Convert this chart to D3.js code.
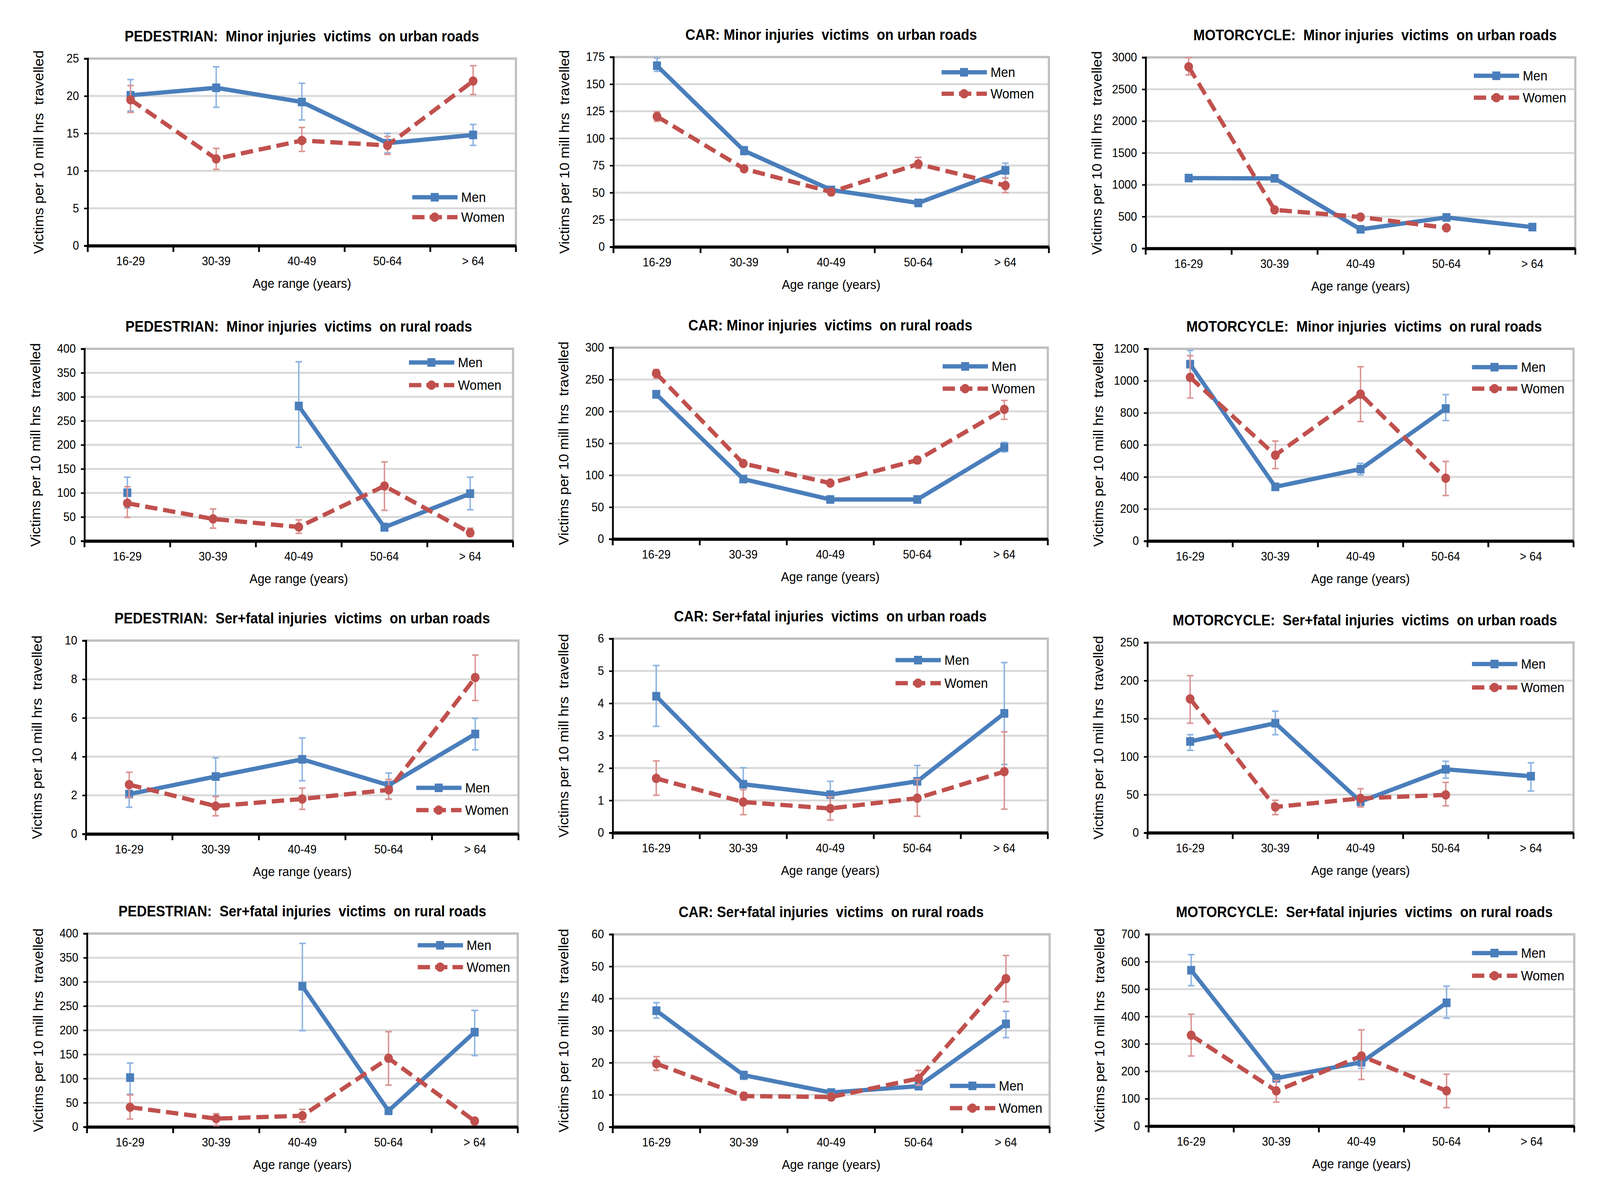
<!DOCTYPE html>
<html>
<head>
<meta charset="utf-8">
<script src="https://cdn.jsdelivr.net/npm/d3@7"></script>
<style>
  html, body { margin: 0; padding: 0; background: #fff; overflow: hidden; }
  svg { display: block; width: 100vw; height: 100vh; }
  text { font-family: "Liberation Sans", Arial, sans-serif; fill: #000; }
</style>
</head>
<body>
<svg id="chart"></svg>
<script>
// ---- data ----
const ages = ["16-29", "30-39", "40-49", "50-64", "> 64"];

const titles = [
  "PEDESTRIAN:  Minor injuries  victims  on urban roads",
  "CAR: Minor injuries  victims  on urban roads",
  "MOTORCYCLE:  Minor injuries  victims  on urban roads",
  "PEDESTRIAN:  Minor injuries  victims  on rural roads",
  "CAR: Minor injuries  victims  on rural roads",
  "MOTORCYCLE:  Minor injuries  victims  on rural roads",
  "PEDESTRIAN:  Ser+fatal injuries  victims  on urban roads",
  "CAR: Ser+fatal injuries  victims  on urban roads",
  "MOTORCYCLE:  Ser+fatal injuries  victims  on urban roads",
  "PEDESTRIAN:  Ser+fatal injuries  victims  on rural roads",
  "CAR: Ser+fatal injuries  victims  on rural roads",
  "MOTORCYCLE:  Ser+fatal injuries  victims  on rural roads"
];

const yMax  = [25, 175, 3000, 400, 300, 1200, 10, 6, 250, 400, 60, 700];
const yStep = [5, 25, 500, 50, 50, 200, 2, 1, 50, 50, 10, 100];

const men = [
  [20.1, 21.1, 19.2, 13.7, 14.8],
  [167, 88.6, 52.5, 40.5, 70.5],
  [1105, 1100, 300, 487, 335],
  [100.5, null, 281, 28.5, 98.5],
  [227, 94, 62, 62, 144],
  [1104, 338, 449, 827, null],
  [2.06, 2.97, 3.86, 2.52, 5.17],
  [4.22, 1.50, 1.18, 1.59, 3.69],
  [120, 144, 41, 83.4, 74.3],
  [102, null, 291, 33.4, 196],
  [36.2, 16.1, 10.7, 12.7, 32.1],
  [569, 175, 233, 450, null]
];
const menLow = [
  [18.0, 18.5, 16.8, 12.4, 13.4],
  [161.8, 85, 50, 38.5, 63.5],
  [1075, 1070, 275, 462, 312],
  [68.6, null, 195, 21, 65],
  [221, 90.5, 59.5, 59.5, 136.4],
  [1020, 317, 413, 752, null],
  [1.38, 1.96, 2.75, 1.81, 4.35],
  [3.29, 1.0, 0.8, 1.08, 2.11],
  [108.4, 128.9, 34.6, 71.8, 54.9],
  [68, null, 199, 26, 147.5],
  [33.9, 14.8, 9.7, 11.6, 27.8],
  [512.6, 160.8, 211, 394, null]
];
const menHigh = [
  [22.2, 23.9, 21.7, 15.0, 16.2],
  [174, 92.5, 55, 43, 77.2],
  [1135, 1130, 325, 512, 358],
  [132.8, null, 373, 37, 132.8],
  [232, 97.5, 64.5, 64.5, 151.5],
  [1190, 356, 485, 914, null],
  [2.70, 3.94, 4.96, 3.15, 5.98],
  [5.17, 2.01, 1.59, 2.08, 5.26],
  [128.9, 159.8, 46, 94, 92],
  [132, null, 379.6, 39.5, 241],
  [38.7, 17.3, 11.8, 13.9, 36.0],
  [626, 189, 247, 511, null]
];

const women = [
  [19.5, 11.6, 14.05, 13.4, 22.0],
  [120.2, 72, 50.6, 76.4, 56.5],
  [2853, 606, 493, 323, null],
  [78.6, 45.9, 29.1, 114.5, 17.1],
  [259.6, 118.4, 87.7, 123.8, 203.3],
  [1022, 536, 917, 392, null],
  [2.55, 1.44, 1.81, 2.28, 8.09],
  [1.68, 0.95, 0.75, 1.07, 1.89],
  [176, 33.9, 45.2, 49.8, null],
  [40.7, 17.1, 23.2, 142, 12.2],
  [19.7, 9.6, 9.3, 15.1, 46.2],
  [331.7, 128.5, 255.9, 128.5, null]
];
const womenLow = [
  [17.8, 10.2, 12.6, 12.2, 20.2],
  [115.8, 69.3, 47.4, 72.3, 50],
  [2725, 580, 470, 300, null],
  [49, 26.7, 16, 63.8, 10],
  [252, 114.5, 84.5, 118.4, 187.7],
  [893, 452, 746, 284, null],
  [1.89, 0.94, 1.27, 1.79, 6.90],
  [1.16, 0.56, 0.39, 0.51, 0.73],
  [144, 23.8, 33.9, 35.4, null],
  [16.3, 2.9, 9.8, 86.4, 5.7],
  [17.6, 8.3, 8.3, 13, 39.0],
  [255.9, 87.6, 170.2, 67.5, null]
];
const womenHigh = [
  [21.4, 13.0, 15.8, 14.6, 24.05],
  [124.6, 74.6, 52.7, 82.5, 63.5],
  [2994, 632, 516, 346, null],
  [112.9, 66.6, 43.9, 164.7, 26.7],
  [265.7, 122.5, 91, 129, 217.2],
  [1157, 624, 1088, 497, null],
  [3.19, 1.93, 2.37, 2.82, 9.25],
  [2.22, 1.33, 1.11, 1.65, 3.12],
  [206.5, 42.7, 57.9, 66.2, null],
  [66, 27.3, 36.3, 197, 19],
  [21.9, 10.7, 10.4, 17.6, 53.4],
  [408.5, 166.5, 351.4, 189.5, null]
];

// ---- layout (plot rects: left, right, top, bottom) ----
const plots = [
  [242, 1423, 150, 629], [1692, 2893, 146, 632], [3160, 4345, 147, 636],
  [233, 1415, 893, 1385], [1690, 2890, 890, 1380], [3165, 4340, 893, 1385],
  [237, 1430, 1640, 2135], [1690, 2890, 1635, 2132], [3165, 4340, 1645, 2132],
  [240, 1428, 2390, 2885], [1690, 2895, 2392, 2885], [3168, 4342, 2392, 2883]
];
const titleShift = [0, 0, 40, 0, 0, 10, 0, 0, 12, 0, 0, 8];
// legend: line start x, men y, women y
const legends = [
  [1137, 505, 556], [2597, 185, 240], [4065, 194, 250],
  [1128, 928, 986], [2600, 938, 995], [4060, 940, 995],
  [1148, 2017, 2074], [2470, 1690, 1749], [4060, 1700, 1760],
  [1152, 2420, 2476], [2620, 2780, 2837], [4060, 2440, 2498]
];

const W = 4413, H = 3044;
const font = "Liberation Sans, Arial, sans-serif";
const blue = "#4A7EBB", red = "#C0504D";
const blueErr = "#8EB4E3", redErr = "#DA9694";

const svg = d3.select("#chart")
  .attr("viewBox", `0 0 ${W} ${H}`)
  .attr("preserveAspectRatio", "none");
svg.append("rect").attr("width", W).attr("height", H).attr("fill", "#fff");

plots.forEach((p, i) => {
  const [left, right, top, bottom] = p;
  const g = svg.append("g");

  const x = d3.scaleBand().domain(ages).range([left, right]);
  const y = d3.scaleLinear().domain([0, yMax[i]]).range([bottom, top]);
  const ticks = d3.range(0, yMax[i] + yStep[i] / 2, yStep[i]);

  // gridlines
  g.selectAll(".grid").data(ticks.filter(t => t > 0 && t < yMax[i])).enter()
    .append("line")
    .attr("x1", left).attr("x2", right)
    .attr("y1", d => y(d)).attr("y2", d => y(d))
    .attr("stroke", "#D9D9D9").attr("stroke-width", 5);
  // frame top / right
  g.append("path")
    .attr("d", `M${left},${top}H${right}V${bottom}`)
    .attr("fill", "none").attr("stroke", "#C0C0C0").attr("stroke-width", 6);

  // y axis
  const yAxis = g.append("g")
    .attr("transform", `translate(${left},0)`)
    .call(d3.axisLeft(y).tickValues(ticks).tickSize(10).tickPadding(14).tickFormat(d3.format("d")));
  yAxis.select(".domain").attr("stroke", "#000").attr("stroke-width", 5);
  yAxis.selectAll(".tick line").attr("stroke", "#000").attr("stroke-width", 4);
  yAxis.selectAll("text").attr("font-size", 31).attr("font-family", font);

  // x axis
  const xAxis = g.append("g")
    .attr("transform", `translate(0,${bottom})`)
    .call(d3.axisBottom(x).tickSize(0).tickPadding(28));
  xAxis.select(".domain").attr("stroke", "#000").attr("stroke-width", 8);
  xAxis.selectAll("text").attr("font-size", 31).attr("font-family", font);
  g.selectAll(".xtick").data(d3.range(ages.length + 1)).enter()
    .append("line")
    .attr("x1", d => left + d * x.bandwidth()).attr("x2", d => left + d * x.bandwidth())
    .attr("y1", bottom).attr("y2", bottom + 16)
    .attr("stroke", "#000").attr("stroke-width", 5);

  // titles
  g.append("text")
    .attr("x", (left + right) / 2 + titleShift[i]).attr("y", top - 44)
    .attr("text-anchor", "middle").attr("font-size", 38).attr("font-weight", "bold")
    .style("white-space", "pre")
    .text(titles[i]);
  g.append("text")
    .attr("x", (left + right) / 2).attr("y", bottom + 108)
    .attr("text-anchor", "middle").attr("font-size", 34)
    .text("Age range (years)");
  g.append("text")
    .attr("transform", `translate(${left - 122},${(top + bottom) / 2}) rotate(-90)`)
    .attr("text-anchor", "middle").attr("font-size", 37)
    .style("white-space", "pre")
    .text("Victims per 10 mill hrs  travelled");

  const cx = d => x(d) + x.bandwidth() / 2;
  const series = [
    { v: men[i], lo: menLow[i], hi: menHigh[i], c: blue, ec: blueErr, dash: null, shape: "square" },
    { v: women[i], lo: womenLow[i], hi: womenHigh[i], c: red, ec: redErr, dash: "34,16", shape: "circle" }
  ];

  series.forEach(s => {
    const pts = ages.map((a, k) => ({ a, v: s.v[k], lo: s.lo[k], hi: s.hi[k] }));
    // error bars
    const eb = g.append("g").attr("stroke", s.ec).attr("stroke-width", 4);
    pts.filter(d => d.v != null).forEach(d => {
      eb.append("line").attr("x1", cx(d.a)).attr("x2", cx(d.a)).attr("y1", y(d.lo)).attr("y2", y(d.hi));
      eb.append("line").attr("x1", cx(d.a) - 9).attr("x2", cx(d.a) + 9).attr("y1", y(d.lo)).attr("y2", y(d.lo));
      eb.append("line").attr("x1", cx(d.a) - 9).attr("x2", cx(d.a) + 9).attr("y1", y(d.hi)).attr("y2", y(d.hi));
    });
    // line
    g.append("path")
      .datum(pts)
      .attr("fill", "none").attr("stroke", s.c).attr("stroke-width", 11)
      .attr("stroke-dasharray", s.dash)
      .attr("stroke-linejoin", "round")
      .attr("d", d3.line().defined(d => d.v != null).x(d => cx(d.a)).y(d => y(d.v)));
    // markers
    pts.filter(d => d.v != null).forEach(d => {
      if (s.shape === "square") {
        g.append("rect").attr("x", cx(d.a) - 11).attr("y", y(d.v) - 11)
          .attr("width", 22).attr("height", 22).attr("fill", s.c);
      } else {
        g.append("circle").attr("cx", cx(d.a)).attr("cy", y(d.v)).attr("r", 12).attr("fill", s.c);
      }
    });
  });

  // legend
  const [lx, ly1, ly2] = legends[i];
  [[ly1, "Men", series[0]], [ly2, "Women", series[1]]].forEach(([ly, name, s]) => {
    g.append("line").attr("x1", lx).attr("x2", lx + 125).attr("y1", ly).attr("y2", ly)
      .attr("stroke", s.c).attr("stroke-width", 11).attr("stroke-dasharray", s.dash ? "34,14" : null);
    if (s.shape === "square") {
      g.append("rect").attr("x", lx + 51).attr("y", ly - 11).attr("width", 22).attr("height", 22).attr("fill", s.c);
    } else {
      g.append("circle").attr("cx", lx + 62).attr("cy", ly).attr("r", 12).attr("fill", s.c);
    }
    g.append("text").attr("x", lx + 135).attr("y", ly + 12).attr("font-size", 35).text(name);
  });
});
</script>
</body>
</html>
